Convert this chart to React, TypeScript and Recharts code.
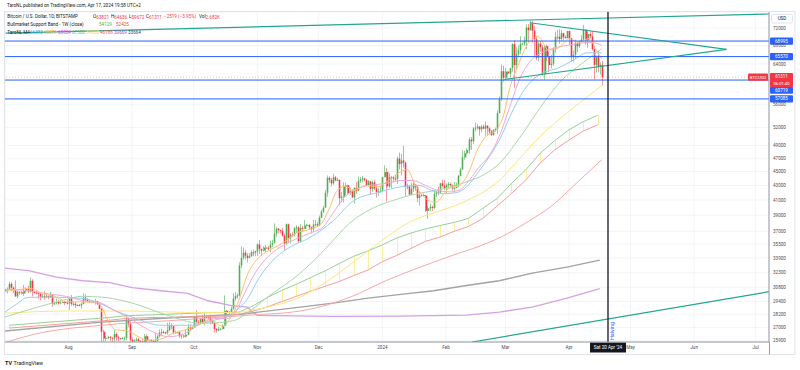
import React from 'react';
import { ComposedChart, XAxis, YAxis, CartesianGrid, Bar, Line, ReferenceLine } from 'recharts';

// BITSTAMP BTCUSD 1D candles, [open, high, low, close], day 0 = Jul 1 2023
const jul23 = [
  [30470, 30650, 30320, 30590], [30590, 30790, 30170, 30620], [30620, 31380, 30570, 31150], [31150, 31320, 30640, 30770],
  [30770, 30880, 30200, 30500], [30500, 31500, 29850, 29900], [29900, 30440, 29700, 30350], [30350, 30380, 30050, 30290],
  [30290, 30430, 30080, 30170], [30170, 31030, 29950, 30410], [30410, 30800, 30290, 30620], [30620, 30980, 30220, 30390],
  [30390, 31810, 30260, 31470], [31470, 31630, 29900, 30320], [30320, 30400, 30250, 30290], [30290, 30440, 30090, 30250],
  [30250, 30330, 29670, 30140], [30140, 30240, 29510, 29860], [29860, 30200, 29750, 29910], [29910, 30420, 29580, 29800],
  [29800, 30050, 29730, 29910], [29910, 29990, 29630, 29800], [29800, 30340, 29750, 30090], [30090, 30110, 28900, 29180],
  [29180, 29380, 29070, 29230], [29230, 29700, 29110, 29350], [29350, 29580, 29100, 29220], [29220, 29530, 29130, 29320],
  [29320, 29410, 29260, 29350], [29350, 29450, 29050, 29280], [29280, 29520, 29100, 29230],
];
const aug23 = [
  [29230, 29730, 28600, 29700], [29700, 30040, 28950, 29180], [29180, 29400, 28980, 29180], [29180, 29310, 28770, 29070],
  [29070, 29110, 28960, 29050], [29050, 29160, 28980, 29040], [29040, 29250, 28700, 29170], [29170, 30200, 29130, 29770],
  [29770, 30120, 29380, 29570], [29570, 29690, 29330, 29430], [29430, 29540, 29260, 29400], [29400, 29470, 29360, 29420],
  [29420, 29450, 29260, 29300], [29300, 29680, 29100, 29430], [29430, 29460, 29070, 29170], [29170, 29220, 28700, 28700],
  [28700, 28760, 25170, 26630], [26630, 26810, 25800, 26050], [26050, 26260, 25800, 26100], [26100, 26290, 25980, 26190],
  [26190, 26260, 25810, 26120], [26120, 26130, 25350, 26040], [26040, 26790, 25800, 26430], [26430, 26560, 25860, 26160],
  [26160, 26300, 25780, 26060], [26060, 26100, 25980, 26000], [26000, 26180, 25970, 26090], [26090, 26220, 25860, 26100],
  [26100, 28140, 25910, 27730], [27730, 27760, 27030, 27300], [27300, 27570, 25660, 25940],
];
const sep23 = [
  [25940, 26140, 25340, 25800], [25800, 25970, 25720, 25870], [25870, 26120, 25800, 25970], [25970, 26100, 25600, 25830],
  [25830, 25880, 25580, 25790], [25790, 26020, 25370, 25760], [25760, 26440, 25610, 26240], [26240, 26420, 25650, 25900],
  [25900, 25940, 25820, 25900], [25900, 26000, 25570, 25840], [25840, 25880, 24900, 25160], [25160, 26550, 25130, 25840],
  [25840, 26390, 25790, 26230], [26230, 26830, 26130, 26540], [26540, 26880, 26240, 26600], [26600, 26760, 26470, 26570],
  [26570, 26620, 26420, 26530], [26530, 27420, 26390, 26760], [26760, 27490, 26680, 27210], [27210, 27380, 26840, 27130],
  [27130, 27160, 26390, 26570], [26570, 26720, 26490, 26580], [26580, 26640, 26510, 26580], [26580, 26720, 26110, 26250],
  [26250, 26430, 26010, 26300], [26300, 26390, 26090, 26220], [26220, 26820, 26120, 26370], [26370, 27290, 26340, 27020],
  [27020, 27230, 26680, 26910], [26910, 27090, 26890, 26970],
];
const oct23 = [
  [26970, 28050, 26960, 27980], [27980, 28580, 27340, 27510], [27510, 27660, 27170, 27430], [27430, 27840, 27260, 27790],
  [27790, 28120, 27370, 27410], [27410, 28280, 27180, 27950], [27950, 28030, 27860, 27970], [27970, 28100, 27710, 27940],
  [27940, 27990, 27290, 27590], [27590, 27740, 27300, 27390], [27390, 27480, 26560, 26870], [26870, 26950, 26570, 26750],
  [26750, 27090, 26690, 26860], [26860, 26970, 26810, 26860], [26860, 27290, 26820, 27160], [27160, 30000, 27120, 28520],
  [28520, 28600, 28130, 28410], [28410, 28500, 28140, 28330], [28330, 28930, 28170, 28720], [28720, 30210, 28610, 29680],
  [29680, 30310, 29490, 29920], [29920, 30180, 29690, 30000], [30000, 33430, 29900, 33090], [33090, 35200, 32800, 33900],
  [33900, 35090, 33730, 34500], [34500, 34830, 33750, 34160], [34160, 34440, 33400, 33910], [33910, 34450, 33870, 34090],
  [34090, 34760, 34060, 34540], [34540, 34850, 34100, 34500], [34500, 34710, 34080, 34670],
];
const nov23 = [
  [34670, 35560, 34130, 35440], [35440, 35950, 34340, 34940], [34940, 34940, 34120, 34730], [34730, 35250, 34620, 35080],
  [35080, 35380, 34550, 35050], [35050, 35270, 34760, 35040], [35040, 35900, 34530, 35420], [35420, 35990, 35150, 35630],
  [35630, 37970, 35560, 36700], [36700, 37520, 36350, 37330], [37330, 37400, 36760, 37140], [37140, 37230, 36760, 37070],
  [37070, 37420, 36350, 36490], [36490, 36750, 34800, 35550], [35550, 37980, 35370, 37870], [37870, 37940, 35560, 36160],
  [36160, 36830, 35530, 36600], [36600, 36870, 36320, 36590], [36590, 37520, 36380, 37390], [37390, 37760, 36770, 37480],
  [37480, 37650, 35660, 35810], [35810, 37890, 35640, 37420], [37420, 37650, 36890, 37290], [37290, 38420, 37260, 37720],
  [37720, 37900, 37620, 37800], [37800, 37830, 37170, 37480], [37480, 37590, 36750, 37250], [37250, 38400, 36900, 37830],
  [37830, 38430, 37590, 37860], [37860, 38150, 37520, 37710],
];
const dec23 = [
  [37710, 38960, 37630, 38690], [38690, 39690, 38650, 39470], [39470, 40210, 39300, 39980], [39980, 42400, 39970, 41980],
  [41980, 44420, 41440, 44080], [44080, 44290, 43360, 43770], [43770, 44070, 42860, 43290], [43290, 44700, 43090, 44170],
  [44170, 44370, 43600, 43720], [43720, 44040, 43600, 43790], [43790, 43810, 40300, 41240], [41240, 42060, 40700, 41450],
  [41450, 43420, 40680, 42890], [42890, 43380, 41680, 43020], [43020, 43090, 41700, 41930], [41930, 42710, 41700, 42240],
  [42240, 42430, 41250, 41360], [41360, 42740, 40530, 42660], [42660, 43470, 41850, 42260], [42260, 44270, 42200, 43650],
  [43650, 44230, 43350, 43870], [43870, 44380, 43470, 43990], [43990, 44000, 43580, 43730], [43730, 43960, 43000, 43010],
  [43010, 43760, 42860, 43580], [43580, 43600, 41680, 42510], [42510, 43660, 42120, 43440], [43440, 43800, 42320, 42580],
  [42580, 43140, 41320, 42070], [42070, 42600, 41550, 42140], [42140, 42880, 41980, 42270],
];
const jan24 = [
  [42270, 44240, 42200, 44180], [44180, 45900, 44160, 44940], [44940, 45500, 40800, 42850], [42850, 44750, 42650, 44170],
  [44170, 44350, 42600, 44160], [44160, 44200, 43440, 43970], [43970, 44480, 43600, 43930], [43930, 47250, 43200, 46970],
  [46970, 47900, 45300, 46120], [46120, 47700, 44400, 46660], [46660, 48970, 45600, 46340], [46340, 46500, 41500, 42780],
  [42780, 43260, 42450, 42850], [42850, 43080, 41720, 41730], [41730, 43380, 41700, 42510], [42510, 43580, 42060, 43140],
  [43140, 43200, 42200, 42760], [42760, 42930, 40700, 41270], [41270, 42160, 40280, 41620], [41620, 41850, 41450, 41660],
  [41660, 41880, 41500, 41580], [41580, 41680, 39440, 39570], [39570, 40200, 38550, 39890], [39890, 40540, 39500, 40090],
  [40090, 40250, 39540, 39940], [39940, 42220, 39820, 41820], [41820, 42200, 41400, 42120], [42120, 42840, 41650, 42030],
  [42030, 43330, 41820, 43300], [43300, 43850, 42700, 42950], [42950, 43740, 42310, 42580],
];
const feb24 = [
  [42580, 43290, 41900, 43080], [43080, 43480, 42600, 43190], [43190, 43380, 42890, 43000], [43000, 43120, 42260, 42580],
  [42580, 43500, 42270, 42660], [42660, 43400, 42580, 43090], [43090, 44500, 42720, 44340], [44340, 45600, 44320, 45290],
  [45290, 48200, 45250, 47130], [47130, 48170, 46800, 47770], [47770, 48580, 47600, 48290], [48290, 50330, 47700, 49960],
  [49960, 50370, 48350, 49700], [49700, 52080, 49270, 51800], [51800, 52820, 51330, 51930], [51930, 52570, 51600, 52140],
  [52140, 52180, 50620, 51650], [51650, 52380, 51170, 52120], [52120, 52490, 51700, 51780], [51780, 52970, 50600, 52280],
  [52280, 52370, 50630, 51840], [51840, 52060, 50920, 51300], [51300, 51560, 50520, 50730], [50730, 51690, 50590, 51570],
  [51570, 51960, 51300, 51730], [51730, 54940, 50920, 54480], [54480, 57560, 54470, 57050], [57050, 63900, 56700, 62500],
  [62500, 63650, 60400, 61200],
];
const mar24 = [
  [61200, 63200, 60800, 62440], [62440, 62460, 61660, 62030], [62030, 63230, 61320, 63170], [63170, 68500, 62400, 68300],
  [68300, 69170, 59200, 63780], [63780, 67640, 62900, 66100], [66100, 68030, 65600, 66920], [66920, 70100, 66100, 68300],
  [68300, 68600, 68000, 68500], [68500, 70000, 67900, 69020], [69020, 72800, 67200, 72100], [72100, 72920, 68800, 71480],
  [71480, 73650, 71400, 73100], [73100, 73790, 68600, 71400], [71400, 72400, 65600, 69400], [69400, 70000, 64800, 65300],
  [65300, 68850, 64600, 68390], [68390, 68940, 66600, 67610], [67610, 68100, 61600, 61930], [61930, 68100, 60800, 67860],
  [67860, 68200, 64600, 65490], [65490, 66650, 62300, 63780], [63780, 65970, 63100, 64060], [64060, 67600, 63600, 67230],
  [67230, 71150, 66400, 69960], [69960, 71530, 69300, 69990], [69990, 71700, 68400, 69460], [69460, 71500, 68900, 70780],
  [70780, 70900, 69100, 69900], [69900, 70300, 69600, 69650], [69650, 71350, 69600, 71300],
];
const apr24 = [
  [71300, 71300, 68100, 69660], [69660, 69700, 64500, 65460], [65460, 66900, 64500, 65960], [65960, 69300, 65100, 68500],
  [68500, 68700, 66500, 67850], [67850, 69000, 67450, 68900], [68900, 70300, 68800, 69360], [69360, 72700, 69100, 71620],
  [71620, 71750, 68200, 69140], [69140, 71100, 67500, 70590], [70590, 71200, 69600, 70060], [70060, 71200, 66900, 67190],
  [67190, 67900, 60800, 63820], [63820, 65800, 62200, 65740], [65740, 66800, 62300, 63430], [63430, 64350, 61800, 63830],
  [63821, 64636, 59672, 61311],
];
const candles = [...jul23, ...aug23, ...sep23, ...oct23, ...nov23, ...dec23, ...jan24, ...feb24, ...mar24, ...apr24];

// axes
const monthTicks = [31, 62, 92, 123, 153, 184, 215, 244, 275, 305, 336, 366];
const monthLabels = ['Aug', 'Sep', 'Oct', 'Nov', 'Dec', '2024', 'Feb', 'Mar', 'Apr', 'May', 'Jun', 'Jul'];
const priceTicks = [72000, 68000, 64000, 56000, 52000, 49000, 47000, 45000, 43000, 41000, 39000, 37000, 35500, 33900, 32300, 30800, 29400, 28200, 27000, 25900];

// TaroNL MA lines, [day, price]
const maOrange = [[0, 30400], [6, 30550], [12, 30700], [18, 30200], [24, 29900], [30, 29400], [38, 29350], [44, 29350], [47, 28900], [50, 27700], [54, 26800], [60, 26700], [64, 26300], [70, 25900], [76, 26000], [82, 26500], [88, 26800], [95, 27300], [101, 27600], [106, 27100], [110, 27900], [114, 29500], [118, 32000], [124, 34000], [130, 34900], [136, 35700], [142, 36800], [148, 37200], [154, 37900], [158, 39800], [162, 42300], [166, 42900], [170, 42300], [176, 43000], [182, 42800], [186, 43500], [192, 44800], [196, 45300], [200, 43100], [206, 41000], [210, 40700], [216, 42500], [222, 43100], [226, 44800], [230, 48100], [234, 50300], [240, 51800], [243, 54000], [246, 59000], [250, 63500], [255, 68400], [260, 70000], [265, 67000], [270, 67500], [275, 69500], [280, 68700], [285, 69600], [288, 67200], [291, 65078]];
const maPink = [[0, 30600], [10, 30500], [19, 30200], [30, 29900], [40, 29400], [46, 29300], [52, 28700], [60, 27900], [70, 26800], [80, 26200], [88, 26500], [95, 27300], [102, 27800], [108, 27800], [112, 28300], [117, 30300], [122, 32300], [128, 34000], [134, 35100], [144, 36300], [150, 36900], [155, 37500], [160, 39300], [165, 41200], [173, 42700], [180, 43100], [186, 43300], [193, 43700], [199, 43700], [205, 43000], [211, 42300], [217, 42100], [222, 42400], [226, 43600], [231, 45600], [236, 47400], [241, 50500], [246, 55500], [251, 61000], [256, 64500], [262, 66500], [268, 67500], [274, 68000], [280, 68500], [286, 68700], [291, 68034]];
const maBlue = [[0, 28400], [6, 29200], [11, 29800], [22, 29830], [38, 29700], [46, 29250], [54, 28500], [62, 27950], [70, 27400], [76, 27200], [89, 27200], [101, 27600], [111, 28300], [118, 29600], [124, 31800], [130, 33500], [138, 35000], [149, 36300], [160, 38300], [170, 40900], [183, 42100], [193, 42800], [202, 43000], [208, 42300], [214, 41850], [220, 42000], [225, 42800], [230, 44600], [235, 46700], [241, 49850], [248, 55300], [255, 59800], [261, 61900], [270, 63200], [277, 64800], [284, 66400], [291, 66383]];
const maGreen = [[0, 27950], [14, 28760], [28, 29500], [37, 29900], [47, 29830], [62, 29250], [79, 28120], [95, 27380], [111, 27590], [118, 28300], [128, 29830], [144, 32270], [157, 35140], [168, 38000], [180, 40000], [190, 41000], [200, 41800], [210, 42300], [225, 43500], [235, 44800], [241, 46200], [251, 50300], [261, 55500], [271, 60500], [281, 64000], [288, 66300], [291, 67300]];
const maYellow = [[0, 28300], [30, 28500], [62, 28500], [89, 28370], [111, 28370], [118, 28500], [128, 28870], [144, 29830], [160, 31850], [177, 34700], [193, 37500], [202, 38700], [209, 39300], [225, 40900], [241, 43700], [251, 47000], [261, 50500], [274, 54500], [284, 57500], [291, 59628]];
const maRed = [[0, 25700], [14, 26400], [47, 27200], [79, 27600], [118, 28100], [144, 28500], [168, 29800], [186, 31500], [200, 32700], [217, 34100], [233, 35400], [245, 36700], [255, 38200], [266, 40100], [280, 43700], [291, 46788]];
const maGray = [[0, 26700], [47, 27480], [79, 27860], [115, 28200], [144, 28870], [160, 29250], [177, 29730], [193, 30100], [209, 30450], [225, 30980], [241, 31470], [257, 32270], [274, 32910], [290, 33664]];
const maPurple = [[0, 32800], [12, 32500], [25, 31850], [38, 31470], [51, 31280], [62, 30770], [76, 30450], [89, 30200], [99, 29470], [110, 29030], [118, 28870], [123, 28100], [160, 28000], [193, 28030], [225, 28120], [241, 28400], [257, 28870], [274, 29730], [290, 30669]];

// Bullmarket Support Band (1W), weekly values
const bmsbDays = [2, 9, 16, 23, 30, 37, 44, 51, 58, 65, 72, 79, 86, 93, 100, 107, 114, 121, 128, 135, 142, 149, 156, 163, 170, 177, 184, 191, 198, 205, 212, 219, 226, 233, 240, 247, 254, 261, 268, 275, 282, 289];
const bmsbUpper = [27200, 27300, 27400, 27500, 27600, 27700, 27800, 27900, 28050, 28100, 28150, 28200, 28250, 28300, 28350, 28350, 28400, 29000, 29800, 30500, 31100, 31800, 32500, 33300, 34100, 34700, 35400, 36200, 36800, 37300, 37700, 38100, 38600, 39900, 41200, 43300, 45300, 47800, 49800, 51600, 53000, 54129];
const bmsbLower = [26950, 27050, 27150, 27250, 27350, 27450, 27550, 27650, 27800, 27850, 27900, 27900, 27950, 27950, 28000, 28050, 28200, 28500, 28900, 29400, 29900, 30400, 30900, 31400, 32000, 32600, 33500, 34200, 35000, 35800, 36300, 37000, 37600, 38600, 40200, 41900, 43800, 46300, 48300, 49900, 51400, 52425];

// drawings
const trendTop = [[0.3, 70830], [372.4, 75380]];
const triUpper = [[256, 73260], [351.8, 67150]];
const triLower = [[243.4, 60830], [351.8, 67150]];
const trendBottom = [[227.8, 25750], [372.4, 30360]];
const levels = [68995, 65570, 60719, 57085];
const lastPrice = 61311;
const halvingDay = 294;

const UP = '#4caf50';
const DN = '#f23645';
const TEAL = '#22a68f';
const LEVEL = '#2962ff';
const TXT = '#131722';

const rows: any[] = candles.map(([o, h, l, c], i) => ({
  d: i,
  wick: [l, h],
  body: [Math.min(o, c), Math.max(o, c)],
  up: c >= o,
}));
bmsbDays.forEach((d, k) => {
  rows[d].band = [bmsbLower[k], bmsbUpper[k]];
});

const pts = (a: number[][]) => a.map(([d, p]) => ({ d, p }));

function WickShape(props: any) {
  const { x, y, width, height, payload } = props;
  if (!payload || !Number.isFinite(y) || !Number.isFinite(height)) return null;
  const cx = Math.round(x + width / 2) + 0.5;
  return <line x1={cx} x2={cx} y1={y} y2={y + height} stroke={payload.up ? '#93cf96' : '#f39aa3'} strokeWidth={1} />;
}

function BodyShape(props: any) {
  const { x, y, width, height, payload } = props;
  if (!payload || !Number.isFinite(y) || !Number.isFinite(height)) return null;
  const cx = Math.round(x + width / 2) + 0.5;
  return <rect x={cx - 0.8} y={y} width={1.6} height={Math.max(1, height)} fill={payload.up ? UP : DN} />;
}

function BandShape(props: any) {
  const { x, y, width, height, payload } = props;
  if (!payload || !payload.band || !Number.isFinite(y) || !Number.isFinite(height)) return null;
  const cx = Math.round(x + width / 2) + 0.5;
  return <line x1={cx} x2={cx} y1={y} y2={y + height} stroke="#fbeea0" strokeWidth={1} />;
}

function LevelTag({ viewBox, value }: any) {
  if (!viewBox) return null;
  const bx = viewBox.x + viewBox.width + 1;
  // the 60719 tag is pushed down by the last-price tag, as in the original
  const cy = viewBox.y + (value === 60719 ? 10 : 0);
  return (
    <g>
      <rect x={bx} y={cy - 3.6} width={23} height={7.2} rx={1} fill={LEVEL} />
      <text x={bx + 11.5} y={cy} fill="#fff" fontSize={4.6} textAnchor="middle" dominantBaseline="central">{value}</text>
    </g>
  );
}

function LastTag({ viewBox }: any) {
  if (!viewBox) return null;
  const right = viewBox.x + viewBox.width;
  const cy = viewBox.y;
  return (
    <g>
      <rect x={right - 21} y={cy - 3.6} width={20} height={7.2} rx={1} fill={DN} />
      <text x={right - 11} y={cy} fill="#fff" fontSize={4.4} textAnchor="middle" dominantBaseline="central">BTCUSD</text>
      <rect x={right + 1} y={cy - 4} width={23} height={14} rx={1} fill={DN} />
      <text x={right + 12.5} y={cy - 0.3} fill="#fff" fontSize={4.5} textAnchor="middle" dominantBaseline="central">{lastPrice}</text>
      <text x={right + 12.5} y={cy + 6} fill="#fff" fontSize={4.2} textAnchor="middle" dominantBaseline="central">06:01:40</text>
    </g>
  );
}

function HalvingTag({ viewBox }: any) {
  if (!viewBox) return null;
  const { x, y, height } = viewBox;
  const bottom = y + height;
  return (
    <g>
      <text x={x + 4.5} y={bottom - 2} fill={LEVEL} fontSize={5.4} dominantBaseline="central" transform={`rotate(-90 ${x + 4.5} ${bottom - 2})`}>Halving</text>
      <rect x={x - 18} y={bottom + 0.5} width={36} height={10} fill="#131722" />
      <text x={x} y={bottom + 5.5} fill="#fff" fontSize={4.6} textAnchor="middle" dominantBaseline="central">Sat 20 Apr '24</text>
    </g>
  );
}

function Overlay() {
  const f = 4.6;
  return (
    <svg width={800} height={370} style={{ position: 'absolute', left: 0, top: 0, pointerEvents: 'none' }}>
      <rect x={4.5} y={11.5} width={790.5} height={343} fill="none" stroke="#e0e3eb" />
      <line x1={769.5} x2={769.5} y1={342} y2={354.5} stroke="#9598a1" />
      <text x={7} y={5.7} fontSize={f} fill={TXT} dominantBaseline="central">TaroNL published on TradingView.com, Apr 17, 2024 19:58 UTC+2</text>
      <g fontSize={f} dominantBaseline="central">
        <text x={7.3} y={16.7} fill={TXT}>Bitcoin / U.S. Dollar, 1D, BITSTAMP</text>
        <text x={93} y={16.7} fill={TXT}>O<tspan fill={DN}>63821</tspan></text>
        <text x={111} y={16.7} fill={TXT}>H<tspan fill={DN}>64636</tspan></text>
        <text x={129} y={16.7} fill={TXT}>L<tspan fill={DN}>59672</tspan></text>
        <text x={146} y={16.7} fill={TXT}>C<tspan fill={DN}>61311</tspan></text>
        <text x={164} y={16.7} fill={DN}>−2519 (−3.95%)</text>
        <text x={199} y={16.7} fill={TXT}>Vol<tspan fill={DN}>2.682K</tspan></text>
        <text x={7.3} y={24.3} fill={TXT}>Bullmarket Support Band - 1W (close)</text>
        <text x={99} y={24.3} fill="#4caf50">54129</text>
        <text x={116} y={24.3} fill="#f44336">52425</text>
        <text x={7.3} y={32.7} fill={TXT}>TaroNL MA</text>
        <text x={30} y={32.7} fill="#42a5f5">66383</text>
        <text x={44} y={32.7} fill="#ffa726">65078</text>
        <text x={58} y={32.7} fill="#e040fb">68034</text>
        <text x={72} y={32.7} fill="#66bb6a">67300</text>
        <text x={86} y={32.7} fill="#fdd835">59628</text>
        <text x={100} y={32.7} fill="#ef5350">46788</text>
        <text x={114} y={32.7} fill="#ab47bc">30669</text>
        <text x={128} y={32.7} fill="#434651">33664</text>
      </g>
      <rect x={771.5} y={14.5} width={21} height={8.5} rx={1.5} fill="#fff" stroke="#e0e3eb" />
      <text x={782} y={18.8} fontSize={f} fill={TXT} textAnchor="middle" dominantBaseline="central">USD</text>
      <text x={5} y={362.5} fontSize={5.4} fill={TXT} dominantBaseline="central">
        <tspan fontWeight={700}>TV</tspan>
        <tspan dx={1.5}>TradingView</tspan>
      </text>
    </svg>
  );
}

export default function App() {
  return (
    <div style={{ position: 'absolute', left: 0, top: 0, width: 800, height: 370, background: '#fff', fontFamily: 'Roboto, sans-serif', overflow: 'hidden' }}>
      <ComposedChart width={800} height={370} data={rows} margin={{ top: 12, right: 0, bottom: 16, left: 5 }} barGap={-1.5}>
        <CartesianGrid stroke="#f3f4f7" />
        <XAxis
          dataKey="d"
          type="number"
          domain={[0, 372.5]}
          allowDataOverflow
          ticks={monthTicks}
          interval={0}
          tickFormatter={(v: number) => monthLabels[monthTicks.indexOf(v)] ?? ''}
          tickLine={false}
          tickSize={0}
          tickMargin={4}
          height={12}
          axisLine={{ stroke: '#9598a1' }}
          tick={{ fontSize: 4.6, fill: '#4a4d57' }}
        />
        <YAxis
          orientation="right"
          scale="log"
          domain={[25750, 75880]}
          allowDataOverflow
          ticks={priceTicks}
          interval={0}
          width={31}
          tickLine={false}
          tickSize={0}
          tickMargin={4}
          axisLine={{ stroke: '#9598a1' }}
          tick={{ fontSize: 4.6, fill: '#4a4d57' }}
        />
        <Bar dataKey="band" barSize={1.5} shape={BandShape} isAnimationActive={false} />
        <Bar dataKey="wick" barSize={1.5} shape={WickShape} isAnimationActive={false} />
        <Bar dataKey="body" barSize={1.5} shape={BodyShape} isAnimationActive={false} />

        <Line data={pts(maPurple)} dataKey="p" stroke="#d8a0e4" strokeWidth={1.4} dot={false} type="linear" isAnimationActive={false} />
        <Line data={pts(maGray)} dataKey="p" stroke="#a3a3a3" strokeWidth={1.4} dot={false} type="linear" isAnimationActive={false} />
        <Line data={pts(maRed)} dataKey="p" stroke="#f7a9a8" strokeWidth={1} dot={false} type="monotone" isAnimationActive={false} />
        <Line data={pts(bmsbDays.map((d, k) => [d, bmsbLower[k]]))} dataKey="p" stroke="#f59e9e" strokeWidth={1} dot={false} type="linear" isAnimationActive={false} />
        <Line data={pts(bmsbDays.map((d, k) => [d, bmsbUpper[k]]))} dataKey="p" stroke="#97cf97" strokeWidth={1} dot={false} type="linear" isAnimationActive={false} />
        <Line data={pts(maYellow)} dataKey="p" stroke="#fbe77c" strokeWidth={1} dot={false} type="monotone" isAnimationActive={false} />
        <Line data={pts(maGreen)} dataKey="p" stroke="#a9d8aa" strokeWidth={1} dot={false} type="monotone" isAnimationActive={false} />
        <Line data={pts(maBlue)} dataKey="p" stroke="#95cdf7" strokeWidth={1} dot={false} type="monotone" isAnimationActive={false} />
        <Line data={pts(maPink)} dataKey="p" stroke="#f2a7d6" strokeWidth={1} dot={false} type="monotone" isAnimationActive={false} />
        <Line data={pts(maOrange)} dataKey="p" stroke="#ffbf6e" strokeWidth={1} dot={false} type="monotone" isAnimationActive={false} />

        {levels.map((v) => (
          <ReferenceLine key={v} y={v} stroke={LEVEL} strokeWidth={1} label={(p: any) => <LevelTag viewBox={p.viewBox} value={v} />} />
        ))}
        <ReferenceLine y={lastPrice} stroke={DN} strokeOpacity={0.35} strokeDasharray="1 2" label={(p: any) => <LastTag viewBox={p.viewBox} />} />

        <Line data={pts(trendTop)} dataKey="p" stroke={TEAL} strokeWidth={1.2} dot={false} type="linear" isAnimationActive={false} />
        <Line data={pts(triUpper)} dataKey="p" stroke={TEAL} strokeWidth={1.2} dot={false} type="linear" isAnimationActive={false} />
        <Line data={pts(triLower)} dataKey="p" stroke={TEAL} strokeWidth={1.2} dot={false} type="linear" isAnimationActive={false} />
        <Line data={pts(trendBottom)} dataKey="p" stroke={TEAL} strokeWidth={1.2} dot={false} type="linear" isAnimationActive={false} />

        <ReferenceLine x={halvingDay} stroke="#131722" strokeWidth={1.3} label={(p: any) => <HalvingTag viewBox={p.viewBox} />} />
      </ComposedChart>
      <Overlay />
    </div>
  );
}
